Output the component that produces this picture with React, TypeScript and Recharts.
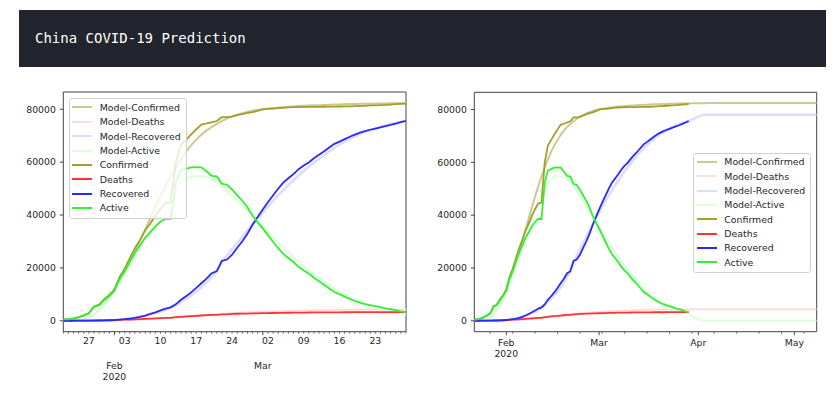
import React from 'react';
import { LineChart, Line, XAxis, YAxis, Legend, ReferenceArea } from 'recharts';

// day index 0 = 2020-01-22
const confirmed = [548, 643, 920, 1406, 2075, 2877, 5509, 6087, 8141, 9802, 11891, 16630, 19716, 23707, 27440, 30587, 34110, 36814, 39829, 42354, 44386, 44759, 59895, 66358, 68413, 70513, 72434, 74211, 74619, 75077, 75550, 77001, 77022, 77241, 77754, 78166, 78600, 78928, 79356, 79932, 80136, 80261, 80386, 80537, 80690, 80770, 80823, 80860, 80887, 80921, 80932, 80945, 80977, 81003, 81033, 81058, 81102, 81156, 81250, 81305, 81435, 81498, 81591, 81661, 81782, 81897, 81999, 82122];
const deaths = [17, 18, 26, 42, 56, 82, 131, 133, 171, 213, 259, 361, 425, 490, 562, 632, 717, 804, 904, 1011, 1111, 1116, 1368, 1520, 1662, 1765, 1863, 2002, 2114, 2236, 2236, 2441, 2443, 2593, 2663, 2715, 2744, 2788, 2835, 2870, 2912, 2945, 2981, 3013, 3042, 3070, 3097, 3119, 3136, 3158, 3169, 3176, 3189, 3199, 3213, 3226, 3237, 3245, 3249, 3253, 3259, 3274, 3274, 3281, 3285, 3291, 3296, 3299];
const recovered = [28, 30, 36, 39, 49, 58, 101, 120, 135, 214, 275, 463, 614, 843, 1115, 1476, 1998, 2595, 3218, 3917, 4635, 5079, 6213, 7973, 9294, 10748, 12455, 14199, 15952, 18002, 18693, 22687, 23170, 24990, 27650, 30053, 32898, 36291, 39279, 42118, 44810, 47404, 49955, 52240, 53888, 55478, 57320, 58735, 59882, 61475, 62793, 64111, 65541, 66911, 67749, 68679, 69601, 70420, 71150, 71740, 72244, 72703, 73159, 73650, 74051, 74587, 75100, 75582];
const active = [503, 595, 858, 1325, 1970, 2737, 5277, 5834, 7835, 9375, 11357, 15806, 18677, 22374, 25763, 28479, 31395, 33415, 35707, 37426, 38640, 38564, 52314, 56865, 57457, 58000, 58116, 58010, 56553, 54839, 54621, 51873, 51409, 49658, 47441, 45398, 42958, 39849, 37242, 34944, 32414, 29912, 27450, 25284, 23760, 22222, 20406, 19006, 17869, 16288, 14970, 13658, 12247, 10893, 10071, 9153, 8264, 7491, 6851, 6312, 5932, 5521, 5158, 4730, 4446, 4019, 3603, 3241];

// model curves, sampled every couple of days
const modelDays = [0, 2, 4, 6, 8, 10, 12, 14, 16, 18, 20, 22, 24, 26, 28, 30, 32, 34, 36, 38, 40, 42, 44, 46, 48, 50, 52, 54, 56, 58, 60, 62, 64, 66, 68, 70, 72, 74, 80, 90, 107];
const modelConfirmed = [0, 30, 400, 2300, 6000, 11800, 18300, 25800, 34500, 43000, 51000, 58000, 64000, 68500, 72000, 74500, 76500, 77900, 79000, 79800, 80300, 80650, 80950, 81200, 81400, 81550, 81700, 81820, 81950, 82030, 82100, 82180, 82250, 82300, 82350, 82400, 82420, 82440, 82450, 82450, 82450];
const modelDeaths = [0, 0, 5, 25, 60, 150, 250, 400, 600, 800, 1000, 1300, 1600, 1900, 2200, 2500, 2750, 2950, 3150, 3350, 3500, 3650, 3750, 3850, 3950, 4030, 4100, 4150, 4200, 4230, 4260, 4280, 4300, 4320, 4340, 4360, 4380, 4390, 4400, 4400, 4400];
const modelRecovered = [0, 0, 5, 30, 120, 350, 700, 1200, 1800, 2800, 4200, 5900, 8300, 11000, 14500, 19200, 24650, 29450, 34150, 38750, 43200, 47400, 51300, 54950, 58250, 61300, 64100, 66670, 68750, 70600, 72140, 73400, 74450, 75180, 76200, 77340, 78040, 78050, 78050, 78050, 78050];
const modelActive = [0, 30, 380, 2250, 5800, 11300, 17300, 24000, 31500, 38500, 45000, 50500, 53500, 54700, 54500, 52300, 49000, 45500, 41700, 37700, 33600, 29600, 25900, 22400, 19200, 16200, 13500, 11000, 9000, 7200, 5700, 4500, 3500, 2800, 1800, 700, 0, 0, 0, 0, 0];

const yTicks = [0, 20000, 40000, 60000, 80000];
const leftWeekDays = [5, 12, 19, 26, 33, 40, 47, 54, 61];
const leftWeekLabels = ['27', '03', '10', '17', '24', '02', '09', '16', '23'];
const rightWeekDays = [5, 12, 19, 26, 33, 40, 47, 54, 61, 68, 75, 82, 89, 96, 103];
const monthDays = [10, 39, 70, 100];
const monthLabels = ['Feb', 'Mar', 'Apr', 'May'];
const yearLabel = '2020';

const Y_DOMAIN: [number, number] = [-4120, 86520];
const FONT = "'DejaVu Sans', sans-serif";
const TEXT = '#262626';

const daily = (arr: number[]) => arr.map((v, i) => ({ day: i, v }));
const model = (arr: number[]) => modelDays.map((d, i) => ({ day: d, v: arr[i] }));

const series = [
  { name: 'Model-Confirmed', data: model(modelConfirmed), color: '#cdc890', width: 2, type: 'monotone' },
  { name: 'Model-Deaths', data: model(modelDeaths), color: '#ffdcdc', width: 2, type: 'monotone' },
  { name: 'Model-Recovered', data: model(modelRecovered), color: '#dcdcff', width: 2.5, type: 'monotone' },
  { name: 'Model-Active', data: model(modelActive), color: '#dcffdc', width: 2, type: 'monotone' },
  { name: 'Confirmed', data: daily(confirmed), color: '#a39e2d', width: 1.8, type: 'linear' },
  { name: 'Deaths', data: daily(deaths), color: '#ff3333', width: 1.8, type: 'linear' },
  { name: 'Recovered', data: daily(recovered), color: '#2a2af5', width: 1.8, type: 'linear' },
  { name: 'Active', data: daily(active), color: '#30f030', width: 1.8, type: 'linear' },
];

// legend keeps the plotting order, like matplotlib does
const LegendBox = () => (
  <div
    style={{
      width: 118,
      boxSizing: 'border-box',
      padding: '1px 0 3px 0',
      border: '1px solid #d0d0d0',
      borderRadius: 3,
      background: 'rgba(255,255,255,0.8)',
      fontFamily: FONT,
      fontSize: 9.4,
      color: TEXT,
    }}
  >
    {series.map((s) => (
      <div key={s.name} style={{ display: 'flex', alignItems: 'center', height: 14.35 }}>
        <span style={{ display: 'inline-block', width: 20, height: 2, marginLeft: 2.5, marginRight: 7.5, background: s.color }} />
        <span>{s.name}</span>
      </div>
    ))}
  </div>
);

interface PanelProps {
  xMax: number;
  yWidth: number;
  marginTop: number;
  marginRight: number;
  legendPos: { left: number; top: number };
  minorDays: number[];
  weekDays: number[];
  weekLabels: string[];
  monthCount: number;
  monthOffset: number;
}

const Panel = ({ xMax, yWidth, marginTop, marginRight, legendPos, minorDays, weekDays, weekLabels, monthCount, monthOffset }: PanelProps) => {
  const mDays = monthDays.slice(0, monthCount);
  const ticks = Array.from(new Set([...minorDays, ...mDays])).sort((a, b) => a - b);

  const DayTick = (props: any) => {
    const { x, y, payload } = props;
    const d = payload.value;
    const mi = mDays.indexOf(d);
    const wi = weekDays.indexOf(d);
    const len = mi >= 0 ? 3.5 : 2;
    return (
      <g>
        <line x1={x} x2={x} y1={y} y2={y + len} stroke="#333" strokeWidth={mi >= 0 ? 0.9 : 0.7} />
        {wi >= 0 && (
          <text x={x} y={y + 9} textAnchor="middle" dominantBaseline="central" fontSize={9.3} fontFamily={FONT} fill={TEXT}>
            {weekLabels[wi]}
          </text>
        )}
        {mi >= 0 && (
          <text x={x} y={y + monthOffset} textAnchor="middle" dominantBaseline="central" fontSize={9.3} fontFamily={FONT} fill={TEXT}>
            {monthLabels[mi]}
          </text>
        )}
        {mi === 0 && (
          <text x={x} y={y + monthOffset + 11.2} textAnchor="middle" dominantBaseline="central" fontSize={9.3} fontFamily={FONT} fill={TEXT}>
            {yearLabel}
          </text>
        )}
      </g>
    );
  };

  return (
    <LineChart width={400} height={310} margin={{ top: marginTop, right: marginRight, left: 0, bottom: 13.3 }}>
      <XAxis
        dataKey="day"
        type="number"
        domain={[0, xMax]}
        allowDataOverflow
        ticks={ticks}
        interval={0}
        tick={<DayTick />}
        tickSize={0}
        tickMargin={0}
        tickLine={false}
        axisLine={false}
        height={50}
      />
      <YAxis
        type="number"
        domain={Y_DOMAIN}
        allowDataOverflow
        ticks={yTicks}
        width={yWidth}
        tickSize={3.5}
        tickMargin={4}
        axisLine={false}
        tickLine={{ stroke: '#333', strokeWidth: 0.9 }}
        tick={{ fill: TEXT, fontSize: 9.3, fontFamily: FONT }}
      />
      {series.map((s) => (
        <Line
          key={s.name}
          data={s.data}
          dataKey="v"
          name={s.name}
          type={s.type as any}
          stroke={s.color}
          strokeWidth={s.width}
          dot={false}
          activeDot={false}
          isAnimationActive={false}
        />
      ))}
      <ReferenceArea x1={0} x2={xMax} y1={Y_DOMAIN[0]} y2={Y_DOMAIN[1]} fill="none" stroke="#444" strokeWidth={1} ifOverflow="visible" />
      <Legend
        layout="horizontal"
        verticalAlign="middle"
        align="center"
        content={<LegendBox />}
        wrapperStyle={{ left: legendPos.left, top: legendPos.top, width: 'auto', height: 'auto' }}
      />
    </LineChart>
  );
};

const leftDaily = Array.from({ length: 68 }, (_, i) => i);

export default function App() {
  return (
    <div style={{ position: 'absolute', left: 0, top: 0, width: 839, height: 397, background: '#fff', fontFamily: FONT }}>
      <div style={{ position: 'absolute', left: 19, top: 10, width: 807, height: 57, background: '#22252d' }}>
        <div style={{ position: 'absolute', left: 16, top: 0, lineHeight: '57px', color: '#fff', fontFamily: "'DejaVu Sans Mono', monospace", fontSize: 14 }}>
          China COVID-19 Prediction
        </div>
      </div>
      <div style={{ position: 'absolute', left: 20, top: 85 }}>
        <Panel
          xMax={67}
          yWidth={43.3}
          marginTop={7}
          marginRight={14}
          legendPos={{ left: 48.7, top: 13.3 }}
          minorDays={leftDaily}
          weekDays={leftWeekDays}
          weekLabels={leftWeekLabels}
          monthCount={2}
          monthOffset={33.3}
        />
      </div>
      <div style={{ position: 'absolute', left: 430, top: 85 }}>
        <Panel
          xMax={107}
          yWidth={44.3}
          marginTop={7.3}
          marginRight={13.3}
          legendPos={{ left: 263.3, top: 67.7 }}
          minorDays={rightWeekDays}
          weekDays={[]}
          weekLabels={[]}
          monthCount={4}
          monthOffset={11}
        />
      </div>
    </div>
  );
}
